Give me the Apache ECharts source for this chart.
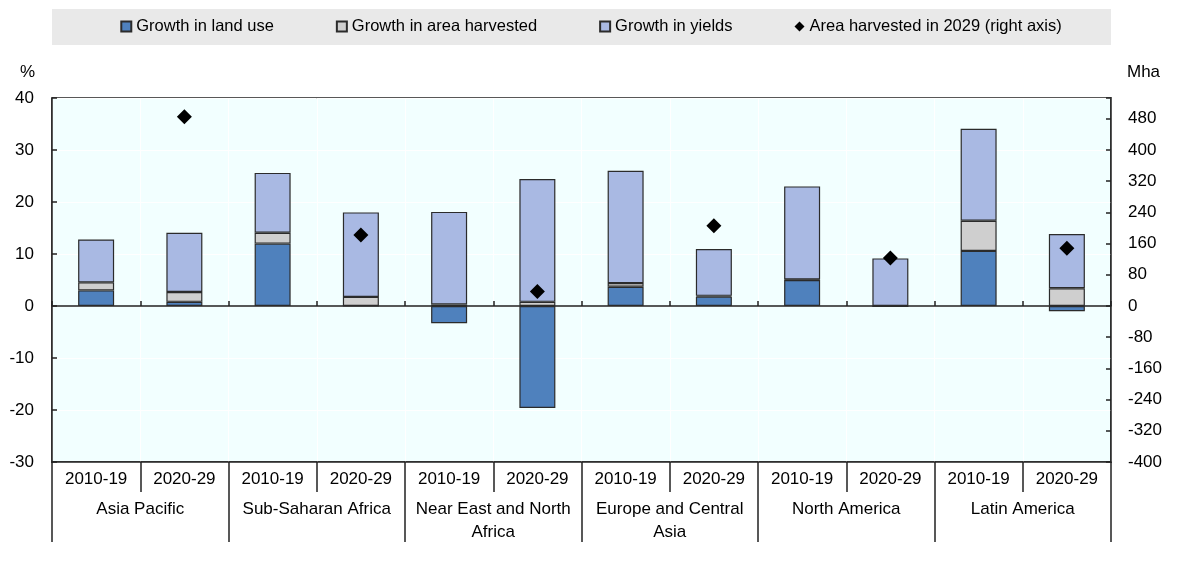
<!DOCTYPE html>
<html>
<head>
<meta charset="utf-8">
<script src="https://cdn.jsdelivr.net/npm/echarts@6/dist/echarts.min.js"></script>
<style>
html,body{margin:0;padding:0;background:#fff;}
#chart{width:1182px;height:562px;}
</style>
</head>
<body>
<div id="chart"></div>
<script>
var periods = ['2010-19','2020-29','2010-19','2020-29','2010-19','2020-29','2010-19','2020-29','2010-19','2020-29','2010-19','2020-29'];
var regions = ['Asia Pacific','Sub-Saharan Africa','Near East and North\nAfrica','Europe and Central\nAsia','North America','Latin America'];
var landUse = [3.0, 0.8, 12.0, 0.0, -3.3, -19.6, 3.7, 1.8, 5.0, -0.1, 10.6, -1.0];
var areaHarvested = [1.55, 1.9, 2.1, 1.75, 0.3, 0.8, 0.7, 0.15, 0.1, 0, 5.8, 3.4];
var yieldsGrowth = [8.25, 11.4, 11.5, 16.25, 17.8, 23.6, 21.6, 9.0, 17.9, 9.15, 17.7, 10.45];
var area2029 = [null, 485, null, 182, null, 37, null, 206, null, 123, null, 148];
var leftTicks = {min: -30, max: 40, interval: 10};
var rightTicks = {min: -400, max: 1600/3, interval: 80};

var FONT = "'Liberation Sans',Arial,sans-serif";
var FS = 17;
var chart = echarts.init(document.getElementById('chart'));
var barBorder = {borderColor: '#2b2b2b', borderWidth: 1.2};
var option = {
  animation: false,
  textStyle: {fontFamily: FONT, color: '#000'},
  graphic: [{
    type: 'rect', left: 52, top: 9, z: -10,
    shape: {width: 1059, height: 36},
    style: {fill: '#E9E9E9'}
  }],
  legend: {
    top: 13, left: 'center',
    itemWidth: 10, itemHeight: 10, itemGap: 62,
    textStyle: {fontFamily: FONT, fontSize: 16.5, color: '#000'},
    data: [
      {name: 'Growth in land use', icon: 'rect'},
      {name: 'Growth in area harvested', icon: 'rect'},
      {name: 'Growth in yields', icon: 'rect'},
      {name: 'Area harvested in 2029 (right axis)', icon: 'diamond'}
    ]
  },
  grid: {
    left: 52, right: 71, top: 98, bottom: 100,
    show: true, backgroundColor: '#F2FFFF', borderColor: '#222', borderWidth: 1.5
  },
  xAxis: [
    {
      type: 'category', data: periods, position: 'bottom',
      axisLine: {onZero: false, lineStyle: {color: '#222', width: 1.5}},
      axisTick: {show: true, length: 30, lineStyle: {color: '#222', width: 1.5}},
      axisLabel: {fontFamily: FONT, fontSize: FS, color: '#000', margin: 9, interval: 0},
      splitLine: {show: true, lineStyle: {color: '#ffffff', width: 1}}
    },
    {
      type: 'category', data: regions, position: 'bottom',
      axisLine: {show: false, onZero: false},
      axisTick: {show: true, length: 80, lineStyle: {color: '#222', width: 1.5}},
      axisLabel: {fontFamily: FONT, fontSize: FS, color: '#000', margin: 36, interval: 0, lineHeight: 23},
      splitLine: {show: false}
    },
    {
      type: 'category', data: periods, position: 'bottom',
      axisLine: {show: true, onZero: true, onZeroAxisIndex: 0, lineStyle: {color: '#222', width: 1.5}},
      axisTick: {show: true, inside: true, length: 5, lineStyle: {color: '#222', width: 1.5}},
      axisLabel: {show: false},
      splitLine: {show: false}
    }
  ],
  yAxis: [
    {
      type: 'value', position: 'left',
      min: leftTicks.min, max: leftTicks.max, interval: leftTicks.interval,
      name: '%', nameLocation: 'end', nameGap: 17,
      nameTextStyle: {fontFamily: FONT, fontSize: FS, color: '#000', align: 'right', padding: [0, 17, 0, 0]},
      axisLine: {show: true, lineStyle: {color: '#222', width: 1.5}},
      axisTick: {show: true, inside: true, length: 5, lineStyle: {color: '#222', width: 1.5}},
      axisLabel: {fontFamily: FONT, fontSize: FS, color: '#000', margin: 18},
      splitLine: {show: true, lineStyle: {color: '#ffffff', width: 1}}
    },
    {
      type: 'value', position: 'right',
      min: rightTicks.min, max: rightTicks.max, interval: rightTicks.interval,
      name: 'Mha', nameLocation: 'end', nameGap: 17,
      nameTextStyle: {fontFamily: FONT, fontSize: FS, color: '#000', align: 'left', padding: [0, 0, 0, 16]},
      axisLine: {show: true, lineStyle: {color: '#222', width: 1.5}},
      axisTick: {show: true, inside: true, length: 5, lineStyle: {color: '#222', width: 1.5}},
      axisLabel: {fontFamily: FONT, fontSize: FS, color: '#000', margin: 17,
        formatter: function (v) { return (Math.abs(v % 80) < 1e-6) ? String(Math.round(v)) : ''; }},
      splitLine: {show: false}
    }
  ],
  series: [
    {name: 'Growth in land use', type: 'bar', stack: 'g', barWidth: 36, data: landUse,
      itemStyle: Object.assign({color: '#4F81BD'}, barBorder)},
    {name: 'Growth in area harvested', type: 'bar', stack: 'g', barWidth: 36, data: areaHarvested,
      itemStyle: Object.assign({color: '#CFCFCF'}, barBorder)},
    {name: 'Growth in yields', type: 'bar', stack: 'g', barWidth: 36, data: yieldsGrowth,
      itemStyle: Object.assign({color: '#A9B9E3'}, barBorder)},
    {name: 'Area harvested in 2029 (right axis)', type: 'scatter', yAxisIndex: 1,
      symbol: 'diamond', symbolSize: 15, data: area2029, z: 5,
      itemStyle: {color: '#000', opacity: 1}}
  ]
};
chart.setOption(option);
</script>
</body>
</html>
